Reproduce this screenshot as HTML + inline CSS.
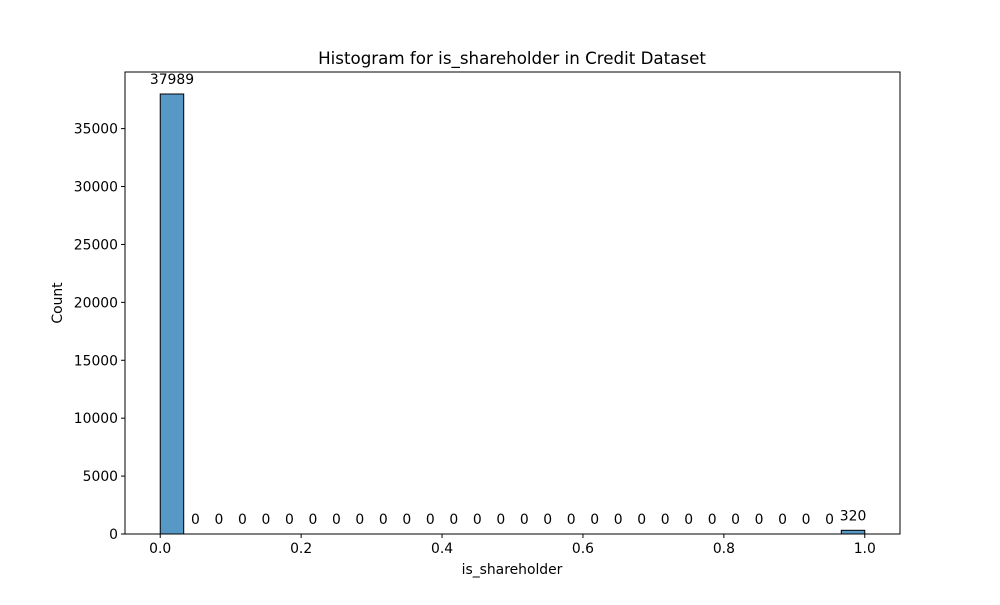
<!DOCTYPE html>
<html><head><meta charset="utf-8"><style>
body{margin:0;background:#fff;font-family:"Liberation Sans","DejaVu Sans",sans-serif;}
svg text{font-family:"DejaVu Sans","Liberation Sans",sans-serif;}
</style></head><body>
<svg id="chart" width="1000" height="600">
<text x="512" y="64" text-anchor="middle" font-size="16.7">Histogram for is_shareholder in Credit Dataset</text>
<g id="bars"></g><g id="labels"></g><g id="xticks"></g><g id="yticks"></g>
<rect x="125" y="72" width="775" height="462" fill="none" stroke="#000" stroke-width="1"/>
<text x="512" y="574" text-anchor="middle" font-size="13.9">is_shareholder</text>
<text transform="translate(62,303) rotate(-90)" text-anchor="middle" font-size="13.9">Count</text>
</svg>
<script>
const counts=[37989,0,0,0,0,0,0,0,0,0,0,0,0,0,0,0,0,0,0,0,0,0,0,0,0,0,0,0,0,320];
const binStart=0, binEnd=1;
const xTicks=[0,0.2,0.4,0.6,0.8,1.0];
const xTickLabels=["0.0","0.2","0.4","0.6","0.8","1.0"];
const yTicks=[0,5000,10000,15000,20000,25000,30000,35000];

const L=125,R=900,T=72,B=534;
const xmin=-0.05,xmax=1.05;
const ymax=Math.max(...counts)*1.05;
const xs=v=>L+(v-xmin)/(xmax-xmin)*(R-L);
const ys=v=>B-v/ymax*(B-T);
const NS="http://www.w3.org/2000/svg";
function mk(tag,attrs,parent){const e=document.createElementNS(NS,tag);for(const k in attrs)e.setAttribute(k,attrs[k]);document.getElementById(parent).appendChild(e);return e;}
const w=(binEnd-binStart)/counts.length;
counts.forEach((c,i)=>{
  const x0=xs(binStart+i*w),x1=xs(binStart+(i+1)*w);
  const r=mk('rect',{x:x0,y:ys(c),width:x1-x0,height:B-ys(c),fill:'#5799c6',stroke:'#000','stroke-width':1},'bars');
  
  
  const t=mk('text',{x:(x0+x1)/2,y:ys(c)-10,'text-anchor':'middle','font-size':13.9},'labels');
  t.textContent=c;
  
  
});
xTicks.forEach((v,i)=>{
  const l=mk('line',{x1:xs(v),x2:xs(v),y1:B,y2:B+4,stroke:'#000'},'xticks');
  
  
  const t=mk('text',{x:xs(v),y:B+19,'text-anchor':'middle','font-size':13.9},'xticks');
  t.textContent=xTickLabels[i];
  
  
});
yTicks.forEach(v=>{
  const l=mk('line',{x1:L-4,x2:L,y1:ys(v),y2:ys(v),stroke:'#000'},'yticks');
  
  
  const t=mk('text',{x:L-7,y:ys(v)+5,'text-anchor':'end','font-size':13.9},'yticks');
  t.textContent=v;
  
  
});
</script>
</body></html>
